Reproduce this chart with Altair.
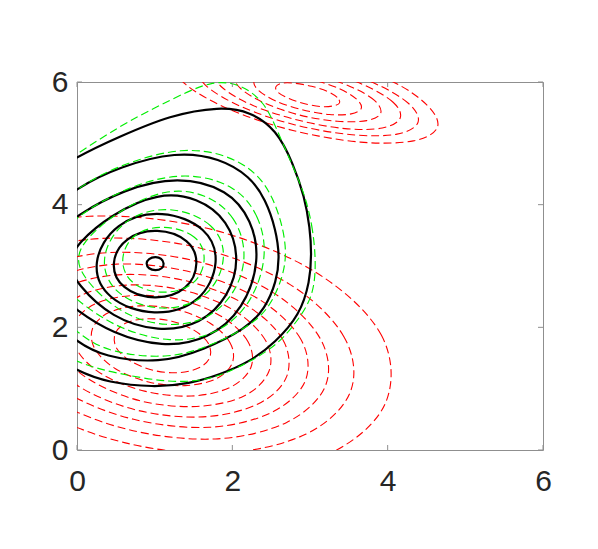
import altair as alt
import pandas as pd

# ---------------- data ----------------
TICKS = [0, 2, 4, 6]

# black solid contours (inner -> outer); points listed around each closed curve
K0 = [(1.125,3.04),(1.09,3.125),(1.01,3.155),(0.92,3.12),(0.885,3.04),(0.92,2.955),(1.01,2.92),(1.10,2.955)]
K1 = [(1.58,3.05),(1.46,3.44),(1.03,3.63),(0.61,3.48),(0.42,3.04),(0.56,2.62),(1.00,2.43),(1.44,2.60)]
K2 = [(1.85,3.07),(1.69,3.63),(1.10,3.93),(0.49,3.73),(0.17,3.05),(0.37,2.44),(1.00,2.16),(1.61,2.39)]
K3 = [(2.10,3.10),(1.95,3.75),(1.55,4.12),(1.05,4.20),(0.45,3.85),(0.00,3.37),(-0.12,3.04),(0.00,2.70),
      (0.45,2.15),(1.05,1.92),(1.60,2.05),(1.95,2.50)]
K4 = [(2.36,3.10),(2.25,3.75),(1.95,4.25),(1.30,4.47),(0.60,4.25),(0.00,3.83),(-0.30,3.50),(-0.40,3.05),
      (-0.30,2.60),(0.00,2.27),(0.45,1.90),(1.10,1.67),(1.70,1.80),(2.15,2.30)]
K5 = [(2.61,3.15),(2.56,3.60),(2.43,4.08),(2.23,4.46),(1.84,4.76),(1.28,4.87),(0.55,4.62),(0.00,4.28),
      (-0.40,3.85),(-0.60,3.05),(-0.40,2.20),(0.00,1.76),(0.34,1.52),(1.07,1.41),(1.63,1.63),(2.18,1.98),
      (2.42,2.30),(2.57,2.75)]
K6 = [(3.02,3.20),(3.00,3.62),(2.93,4.13),(2.78,4.68),(2.57,5.22),(2.23,5.52),(1.84,5.60),(1.20,5.46),
      (0.55,5.11),(0.00,4.79),(-0.60,4.30),(-0.90,3.05),(-0.60,1.75),(0.00,1.28),(0.40,1.10),(0.98,1.02),
      (1.45,1.08),(1.84,1.23),(2.23,1.44),(2.55,1.75),(2.87,2.20),(3.00,2.75)]

# green dashed contours
G1 = [(1.68,3.12),(1.56,3.51),(1.12,3.68),(0.71,3.55),(0.54,3.11),(0.67,2.69),(1.10,2.52),(1.54,2.67)]
G2 = [(1.95,3.14),(1.79,3.70),(1.20,4.00),(0.59,3.80),(0.27,3.12),(0.47,2.51),(1.10,2.23),(1.71,2.46)]
G3 = [(2.20,3.17),(2.05,3.82),(1.65,4.19),(1.15,4.27),(0.55,3.92),(0.10,3.44),(-0.02,3.11),(0.10,2.77),
      (0.55,2.22),(1.15,1.99),(1.70,2.12),(2.05,2.57)]
G4 = [(2.46,3.17),(2.35,3.82),(2.05,4.32),(1.40,4.54),(0.70,4.32),(0.10,3.90),(-0.20,3.57),(-0.30,3.12),
      (-0.20,2.67),(0.10,2.34),(0.55,1.97),(1.20,1.74),(1.80,1.87),(2.25,2.37)]
G5 = [(2.70,3.20),(2.65,3.65),(2.52,4.13),(2.32,4.52),(1.93,4.82),(1.36,4.94),(0.64,4.69),(0.08,4.35),
      (-0.30,3.92),(-0.50,3.12),(-0.30,2.27),(0.08,1.83),(0.43,1.59),(1.16,1.48),(1.72,1.69),(2.27,2.05),
      (2.50,2.37),(2.65,2.82)]
G6 = [(3.08,3.02),(3.04,3.59),(2.95,4.10),(2.80,4.57),(2.65,5.00),(2.51,5.41),(2.40,5.66),(2.22,5.87),
      (1.98,6.00),(1.72,5.99),(1.45,5.86),(1.00,5.58),(0.55,5.28),(0.00,4.83),(-0.60,4.30),(-0.90,3.10),
      (-0.60,1.85),(0.00,1.41),(0.51,1.25),(1.20,1.09),(1.75,1.14),(2.27,1.47),(2.57,1.71),(2.80,2.04),
      (3.04,2.48)]

# red dashed contours, lower family (outer -> inner)
R1 = [(3.97,0.76),(3.92,1.87),(3.07,2.90),(1.69,3.61),(0.16,3.81),(-1.13,3.44),(-1.81,2.60),(-1.72,1.53),
      (-0.87,0.50),(0.51,-0.21),(2.00,-0.43),(3.25,-0.06)]
R2 = [(3.52,0.95),(3.44,1.84),(2.74,2.70),(1.59,3.29),(0.32,3.45),(-0.75,3.14),(-1.32,2.45),(-1.24,1.56),
      (-0.54,0.70),(0.61,0.12),(1.88,-0.05),(2.95,0.26)]
R3 = [(3.20,1.05),(3.13,1.82),(2.52,2.57),(1.53,3.08),(0.42,3.22),(-0.50,2.95),(-1.00,2.35),(-0.93,1.58),
      (-0.32,0.83),(0.67,0.33),(1.78,0.18),(2.70,0.45)]
R4 = [(2.94,1.13),(2.88,1.81),(2.34,2.46),(1.47,2.90),(0.51,3.03),(-0.30,2.79),(-0.74,2.27),(-0.68,1.59),
      (-0.14,0.94),(0.73,0.50),(1.70,0.37),(2.50,0.61)]
R5 = [(2.70,1.20),(2.65,1.80),(2.18,2.36),(1.43,2.75),(0.58,2.86),(-0.13,2.66),(-0.50,2.20),(-0.45,1.61),
      (0.02,1.04),(0.77,0.65),(1.62,0.54),(2.33,0.75)]
R6 = [(2.47,1.28),(2.43,1.78),(2.03,2.27),(1.38,2.60),(0.66,2.69),(0.05,2.52),(-0.27,2.12),(-0.23,1.62),
      (0.17,1.14),(0.82,0.80),(1.54,0.71),(2.15,0.88)]
R7 = [(2.24,1.35),(2.20,1.77),(1.87,2.17),(1.33,2.45),(0.73,2.52),(0.23,2.38),(-0.04,2.05),(0.00,1.63),
      (0.33,1.23),(0.87,0.96),(1.47,0.88),(1.97,1.02)]
R8 = [(2.00,1.42),(1.97,1.75),(1.71,2.07),(1.28,2.29),(0.81,2.35),(0.41,2.24),(0.20,1.98),(0.23,1.65),
      (0.49,1.33),(0.92,1.11),(1.39,1.05),(1.79,1.16)]
R9 = [(1.71,1.51),(1.69,1.74),(1.51,1.95),(1.22,2.10),(0.90,2.14),(0.63,2.07),(0.49,1.89),(0.51,1.66),
      (0.69,1.45),(0.98,1.30),(1.30,1.26),(1.57,1.34)]

# red dashed contours, upper family (outer -> inner)
T1 = [(4.64,5.26),(4.51,5.62),(4.02,6.03),(3.16,6.38),(2.29,6.56),(1.61,6.55),(1.26,6.32),(1.40,5.96),
      (1.97,5.55),(2.78,5.21),(3.65,5.02),(4.33,5.04)]
T2 = [(4.39,5.34),(4.27,5.65),(3.81,5.99),(3.13,6.28),(2.40,6.44),(1.82,6.43),(1.56,6.24),(1.67,5.93),
      (2.13,5.59),(2.81,5.30),(3.54,5.14),(4.12,5.15)]
T3 = [(4.16,5.41),(4.07,5.67),(3.68,5.96),(3.10,6.21),(2.49,6.34),(2.01,6.33),(1.78,6.17),(1.87,5.91),
      (2.26,5.62),(2.84,5.38),(3.45,5.24),(3.93,5.25)]
T4 = [(3.91,5.49),(3.83,5.70),(3.53,5.92),(3.07,6.12),(2.59,6.22),(2.21,6.21),(2.03,6.09),(2.11,5.89),
      (2.41,5.66),(2.87,5.46),(3.35,5.36),(3.73,5.37)]
T5 = [(3.66,5.57),(3.60,5.72),(3.38,5.89),(3.05,6.03),(2.69,6.11),(2.41,6.10),(2.28,6.01),(2.34,5.86),
      (2.56,5.69),(2.89,5.55),(3.25,5.47),(3.53,5.48)]
T6 = [(3.38,5.66),(3.35,5.75),(3.22,5.85),(3.02,5.93),(2.80,5.98),(2.64,5.98),(2.56,5.92),(2.59,5.83),
      (2.73,5.73),(2.92,5.65),(3.14,5.60),(3.30,5.61)]

BLACK = [K0, K1, K2, K3, K4, K5, K6]
GREEN = [G1, G2, G3, G4, G5, G6]
RED = [R1, R2, R3, R4, R5, R6, R7, R8, R9, T1, T2, T3, T4, T5, T6]


def to_frame(curves, tag):
    rows = []
    for ci, pts in enumerate(curves):
        for oi, (x, y) in enumerate(pts):
            rows.append({"cid": f"{tag}{ci}", "o": oi, "x": x, "y": y})
    return pd.DataFrame(rows)


df_black = to_frame(BLACK, "k")
df_green = to_frame(GREEN, "g")
df_red = to_frame(RED, "r")
df_ticks = pd.DataFrame({"v": TICKS})

# ---------------- chart ----------------
W, H = 466, 368
GRAY = "#8f8f8f"
xs = alt.Scale(domain=[0, 6], nice=False, zero=False)
ys = alt.Scale(domain=[0, 6], nice=False, zero=False)
ax_common = dict(values=TICKS, ticks=False, domain=False, grid=False, title=None,
                 labelFontSize=30, labelFont="Liberation Sans", labelColor="#262626",
                 labelFlush=False, labelOverlap=False)
xaxis = alt.Axis(labelPadding=16, **ax_common)
yaxis = alt.Axis(labelPadding=9, **ax_common)


def contour_layer(df, color, width, interp, dash=None):
    kw = dict(interpolate=interp, color=color, strokeWidth=width, clip=True)
    if dash:
        kw["strokeDash"] = dash
    return alt.Chart(df).mark_line(**kw).encode(
        x=alt.X("x:Q", scale=xs, axis=xaxis),
        y=alt.Y("y:Q", scale=ys, axis=yaxis),
        detail="cid:N",
        order="o:Q",
    )


red = contour_layer(df_red, "#ff0000", 1.1, "cardinal-closed", [8, 4])
black = contour_layer(df_black, "#000000", 2.2, "basis-closed")
green = contour_layer(df_green, "#00ee00", 1.15, "basis-closed", [8, 4])

tick_x_bottom = alt.Chart(df_ticks).mark_rule(color=GRAY, strokeWidth=1).encode(
    x=alt.X("v:Q", scale=xs, axis=xaxis), y=alt.value(H), y2=alt.value(H - 5))
tick_x_top = alt.Chart(df_ticks).mark_rule(color=GRAY, strokeWidth=1).encode(
    x=alt.X("v:Q", scale=xs, axis=xaxis), y=alt.value(0), y2=alt.value(5))
tick_y_left = alt.Chart(df_ticks).mark_rule(color=GRAY, strokeWidth=1).encode(
    y=alt.Y("v:Q", scale=ys, axis=yaxis), x=alt.value(0), x2=alt.value(5))
tick_y_right = alt.Chart(df_ticks).mark_rule(color=GRAY, strokeWidth=1).encode(
    y=alt.Y("v:Q", scale=ys, axis=yaxis), x=alt.value(W), x2=alt.value(W - 5))

chart = alt.layer(
    red, black, green, tick_x_bottom, tick_x_top, tick_y_left, tick_y_right
).properties(
    width=W, height=H,
    autosize=alt.AutoSizeParams(type="none"),
    padding={"left": 69, "top": 74, "right": 10, "bottom": 60},
    background="white",
).configure_view(stroke=GRAY, strokeWidth=1)

chart.save("out.html", embed_options={"renderer": "svg", "actions": False})
